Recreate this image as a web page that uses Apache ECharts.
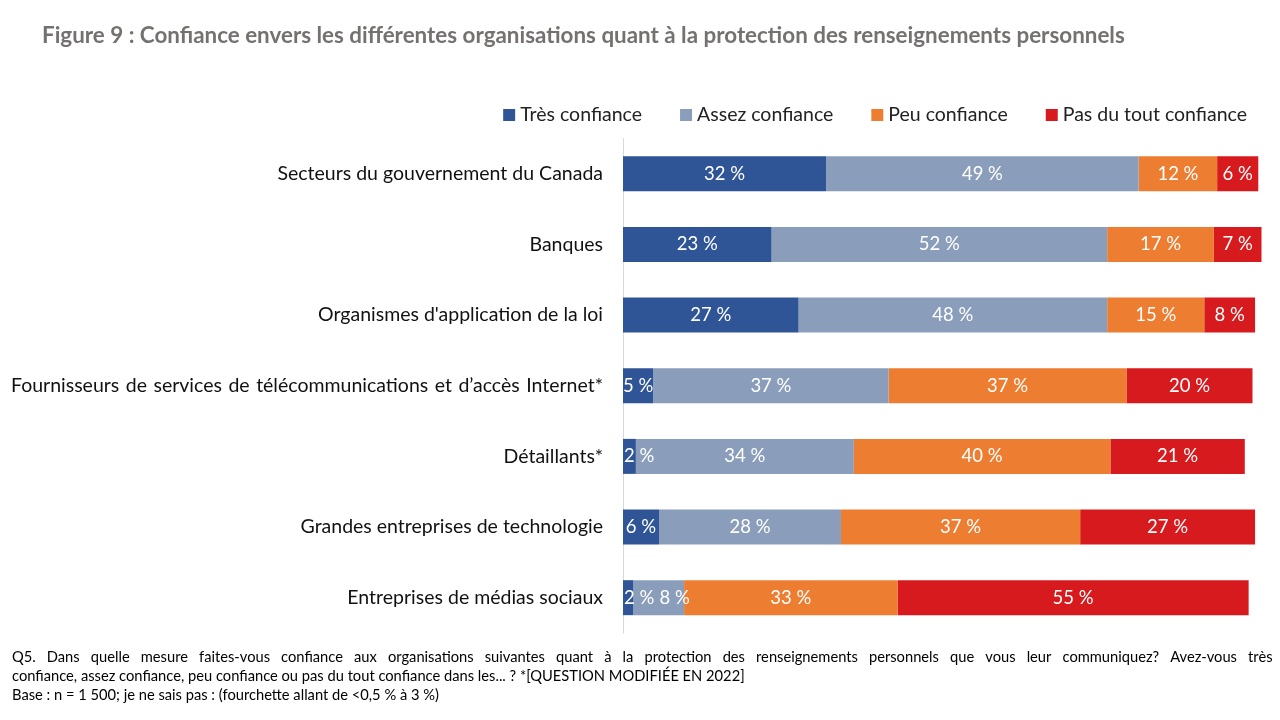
<!DOCTYPE html>
<html><head><meta charset="utf-8">
<script src="https://cdn.jsdelivr.net/npm/echarts@6/dist/echarts.min.js"></script>
<style>html,body{margin:0;padding:0;background:#fff}#c{width:1280px;height:720px}</style>
</head><body><div id="c"></div>
<script>
const categories = [
  "Secteurs du gouvernement du Canada",
  "Banques",
  "Organismes d'application de la loi",
  "Fournisseurs\u2004de\u2004services\u2004de\u2004télécommunications\u2004et\u2004d’accès\u2004Internet*",
  "Détaillants*",
  "Grandes entreprises de technologie",
  "Entreprises de médias sociaux"
];
const seriesNames = ["Très confiance", "Assez confiance", "Peu confiance", "Pas du tout confiance"];
const tres   = [31.6, 23.1, 27.3, 4.7, 2.0, 5.6, 1.6];
const assez  = [48.6, 52.2, 48.0, 36.6, 33.9, 28.3, 7.9];
const peu    = [12.2, 16.6, 15.1, 37.0, 39.9, 37.2, 33.2];
const pasDu  = [6.4, 7.4, 7.9, 19.6, 20.9, 27.2, 54.6];
const colors = ["#2F5597", "#8A9EBB", "#ED7D31", "#D71A1D"];
const FONT = "Lato, 'Liberation Sans Narrow', 'Noto Sans', sans-serif";
const note1 = ["Q5.","Dans","quelle","mesure","faites-vous","confiance","aux","organisations","suivantes","quant","à","la","protection","des","renseignements","personnels","que","vous","leur","communiquez?","Avez-vous","très"];

const chart = echarts.init(document.getElementById('c'));
const mk = (name, data, i) => ({
  name, type: 'bar', stack: 'total', barWidth: 35,
  z: 6 - i,
  data: data.map(v => {
    if (i === 0 && v < 4) return {value: v, label: {position: 'insideLeft', distance: 1}};
    if (i === 1 && v < 10) return {value: v, label: {offset: [16, 0]}};
    return v;
  }),
  itemStyle: {color: colors[i]},
  label: {show: true, position: 'inside', color: '#fff', fontSize: 18.5, fontFamily: FONT,
    formatter: p => Math.round(p.value) + ' %'},
  emphasis: {disabled: true}
});
chart.setOption({
  animation: false,
  textStyle: {fontFamily: FONT},
  title: {text: "Figure 9 : Confiance envers les différentes organisations quant à la protection des renseignements personnels",
    left: 37, top: 20, textStyle: {fontSize: 22.4, fontWeight: 'bold', color: '#767171', fontFamily: FONT}},
  legend: {right: 28, top: 100, itemWidth: 12, itemHeight: 12, itemGap: 38, icon: 'rect',
    textStyle: {fontSize: 19.5, color: '#222', fontFamily: FONT}},
  grid: {left: 623, right: 14, top: 138.5, bottom: 87, containLabel: false},
  xAxis: {type: 'value', min: 0, max: 100, show: false},
  yAxis: {type: 'category', data: categories, inverse: true,
    axisLine: {show: true, lineStyle: {color: '#d9d9d9'}}, axisTick: {show: false},
    axisLabel: {fontSize: 19.5, color: '#111', margin: 20, fontFamily: FONT}},
  series: [mk(seriesNames[0], tres, 0), mk(seriesNames[1], assez, 1), mk(seriesNames[2], peu, 2), mk(seriesNames[3], pasDu, 3)],
  graphic: [
    {type: 'text', left: 12, top: 650, style: {text: note1.join(' \u2002'), fontSize: 14.7, fill: '#000', fontFamily: FONT}},
    {type: 'text', left: 12, top: 669, style: {text: "confiance, assez confiance, peu confiance ou pas du tout confiance dans les... ? *[QUESTION MODIFIÉE EN 2022]", fontSize: 14.7, fill: '#000', fontFamily: FONT}},
    {type: 'text', left: 12, top: 688, style: {text: "Base : n = 1 500; je ne sais pas : (fourchette allant de <0,5 % à 3 %)", fontSize: 14.7, fill: '#000', fontFamily: FONT}}
  ]
});
</script></body></html>
